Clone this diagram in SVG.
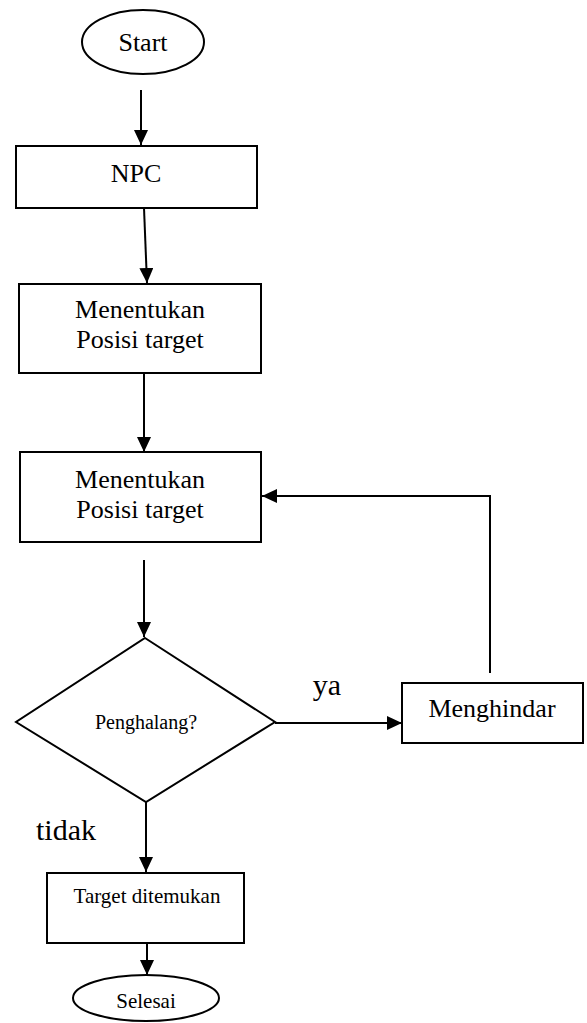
<svg xmlns="http://www.w3.org/2000/svg" width="587" height="1023" viewBox="0 0 587 1023">
<style>
.shape{fill:#fff;stroke:#000;stroke-width:2}
.line{fill:none;stroke:#000;stroke-width:2}
text{font-family:"Liberation Serif","Times New Roman",serif;fill:#000;text-anchor:middle}
</style>
<defs>
<marker id="arr" markerUnits="userSpaceOnUse" markerWidth="15" markerHeight="14" refX="15" refY="7" orient="auto">
<path d="M0,0 L15,7 L0,14 z" fill="#000"/>
</marker>
</defs>
<rect width="587" height="1023" fill="#fff"/>
<g id="connectors">
<line class="line" x1="141" y1="90" x2="141" y2="145" marker-end="url(#arr)"/>
<line class="line" x1="144" y1="208" x2="147" y2="283" marker-end="url(#arr)"/>
<line class="line" x1="144" y1="373" x2="144" y2="452" marker-end="url(#arr)"/>
<line class="line" x1="144" y1="560" x2="144" y2="637" marker-end="url(#arr)"/>
<line class="line" x1="275" y1="723" x2="402" y2="723" marker-end="url(#arr)"/>
<polyline class="line" points="490,673 490,496 262,496" marker-end="url(#arr)"/>
<line class="line" x1="146" y1="802" x2="146" y2="872" marker-end="url(#arr)"/>
<line class="line" x1="147" y1="943" x2="147" y2="975" marker-end="url(#arr)"/>
</g>
<g id="start">
<ellipse class="shape" cx="143" cy="42" rx="61" ry="32"/>
<text x="143" y="51" font-size="26">Start</text>
</g>
<g id="npc">
<rect class="shape" x="16" y="146" width="241" height="62"/>
<text x="136" y="182" font-size="26">NPC</text>
</g>
<g id="posisi1">
<rect class="shape" x="19" y="284" width="242" height="89"/>
<text x="140" y="318" font-size="26">Menentukan</text>
<text x="140" y="348" font-size="26">Posisi target</text>
</g>
<g id="posisi2">
<rect class="shape" x="20" y="452" width="241" height="90"/>
<text x="140" y="488" font-size="26">Menentukan</text>
<text x="140" y="518" font-size="26">Posisi target</text>
</g>
<g id="penghalang">
<polygon class="shape" points="145,638 275,722 146,802 16,722"/>
<text x="146" y="729" font-size="20">Penghalang?</text>
</g>
<g id="menghindar">
<rect class="shape" x="402" y="683" width="181" height="60"/>
<text x="492" y="717" font-size="26">Menghindar</text>
</g>
<g id="labels">
<text x="327" y="695" font-size="30">ya</text>
<text x="66" y="840" font-size="30">tidak</text>
</g>
<g id="target">
<rect class="shape" x="47" y="873" width="197" height="70"/>
<text x="147" y="903" font-size="21">Target ditemukan</text>
</g>
<g id="selesai">
<ellipse class="shape" cx="146" cy="998" rx="73" ry="23"/>
<text x="146" y="1008" font-size="21">Selesai</text>
</g>
</svg>
